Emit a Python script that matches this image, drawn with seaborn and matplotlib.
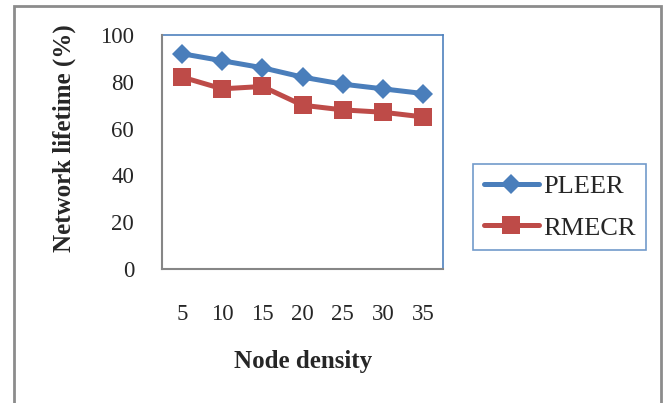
import matplotlib
matplotlib.use("Agg")
import matplotlib.pyplot as plt
import seaborn as sns
import pandas as pd
from matplotlib.patches import Rectangle

categories = ["5", "10", "15", "20", "25", "30", "35"]
pleer = [92, 89, 86, 82, 79, 77, 75]
rmecr = [82, 77, 78, 70, 68, 67, 65]
series_names = ["PLEER", "RMECR"]
y_ticks = [0, 20, 40, 60, 80, 100]

df = pd.DataFrame({
    "Node density": categories * 2,
    "value": pleer + rmecr,
    "series": [series_names[0]] * len(categories) + [series_names[1]] * len(categories),
})

sns.set_style("white")
plt.rcParams["font.family"] = ["Liberation Serif", "DejaVu Serif"]

fig = plt.figure(figsize=(6.64, 4.03), dpi=100)
ax = fig.add_axes([162 / 664, 1 - 269 / 403, (443 - 162) / 664, (269 - 35) / 403])

colors = {"PLEER": "#4A7EBB", "RMECR": "#BE4B48"}
markers = {"PLEER": "D", "RMECR": "s"}
msizes = {"PLEER": 10, "RMECR": 13.5}
for name in series_names:
    sub = df[df["series"] == name]
    sns.lineplot(data=sub, x="Node density", y="value", sort=False,
                 color=colors[name], marker=markers[name], markersize=msizes[name],
                 markeredgewidth=0, linewidth=3.6, label=name, ax=ax)

ax.set_xlim(-0.5, len(categories) - 0.5)
ax.set_ylim(0, 100)
ax.set_yticks(y_ticks)
ax.tick_params(axis="x", length=0, pad=25, labelsize=16.5)
ax.tick_params(axis="y", length=0, pad=20, labelsize=16.5)

for side in ["top", "right"]:
    ax.spines[side].set_color("#4F81BD")
    ax.spines[side].set_linewidth(1.2)
for side in ["left", "bottom"]:
    ax.spines[side].set_color("#868686")
    ax.spines[side].set_linewidth(1.5)
    ax.spines[side].set_zorder(5)

ax.set_xlabel("Node density", fontsize=18, fontweight="bold")
ax.set_ylabel("Network lifetime (%)", fontsize=18, fontweight="bold")
ax.xaxis.set_label_coords(0.502, -0.345)
ax.yaxis.set_label_coords(-0.305, 0.56)

handles, labels = ax.get_legend_handles_labels()
leg = ax.legend(handles, labels, loc="center", bbox_to_anchor=(559.5 / 664, 1 - 207 / 403),
                bbox_transform=fig.transFigure, fontsize=19, frameon=True, fancybox=False,
                handlelength=2.1, handletextpad=0.15, labelspacing=0.7, borderpad=0.4)
leg.get_frame().set_edgecolor("#4F81BD")
leg.get_frame().set_linewidth(1.2)

border = Rectangle((14 / 664, -0.05), (661 - 14) / 664, 1 - 6 / 403 + 0.05,
                   transform=fig.transFigure, fill=False, edgecolor="#8C8C8C",
                   linewidth=2, clip_on=False)
fig.patches.append(border)

fig.savefig("out.png", dpi=100)
